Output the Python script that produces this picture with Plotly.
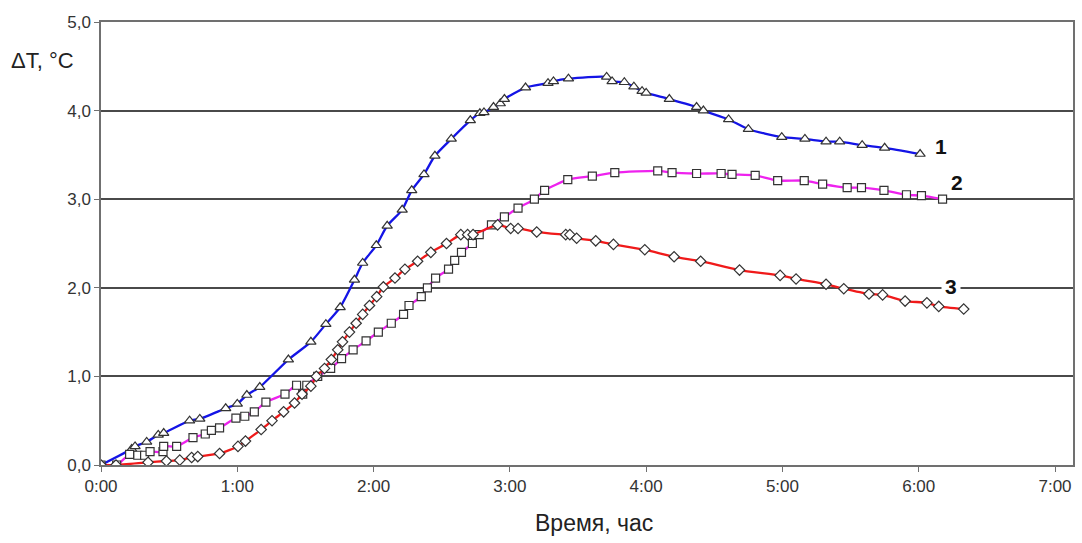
import plotly.graph_objects as go

# time in hours, dT in °C
t1 = [0.0, 0.225, 0.25, 0.335, 0.42, 0.46, 0.65, 0.725, 0.915, 1.0, 1.07, 1.165, 1.375, 1.54, 1.65,
      1.755, 1.86, 1.92, 2.02, 2.10, 2.21, 2.28, 2.37, 2.45, 2.57, 2.71, 2.78, 2.81, 2.88, 2.93, 2.96,
      3.115, 3.28, 3.32, 3.43, 3.71, 3.75, 3.84, 3.91, 3.97, 4.0, 4.17, 4.37, 4.42, 4.605, 4.75, 4.995,
      5.165, 5.32, 5.42, 5.585, 5.75, 6.01]
d1 = [0.0, 0.18, 0.21, 0.26, 0.34, 0.36, 0.50, 0.52, 0.64, 0.69, 0.79, 0.88, 1.19, 1.39, 1.59,
      1.78, 2.09, 2.28, 2.48, 2.70, 2.88, 3.10, 3.28, 3.49, 3.68, 3.89, 3.97, 3.98, 4.04, 4.08, 4.13,
      4.26, 4.31, 4.33, 4.36, 4.38, 4.33, 4.32, 4.27, 4.22, 4.20, 4.13, 4.04, 4.00, 3.90, 3.79, 3.70,
      3.68, 3.65, 3.65, 3.61, 3.58, 3.51]

t2 = [0.0, 0.115, 0.21, 0.27, 0.32, 0.36, 0.455, 0.46, 0.555, 0.675, 0.765, 0.81, 0.87, 0.99, 1.055,
      1.125, 1.21, 1.35, 1.435, 1.48, 1.51, 1.59, 1.685, 1.765, 1.85, 1.945, 2.035, 2.13, 2.22, 2.26,
      2.35, 2.395, 2.455, 2.55, 2.595, 2.645, 2.725, 2.775, 2.865, 2.96, 3.06, 3.18, 3.255, 3.425,
      3.605, 3.77, 4.085, 4.19, 4.37, 4.55, 4.63, 4.80, 4.965, 5.16, 5.295, 5.475, 5.58, 5.745, 5.91,
      6.02, 6.175]
d2 = [0.0, 0.0, 0.12, 0.11, 0.11, 0.15, 0.15, 0.21, 0.21, 0.31, 0.35, 0.39, 0.42, 0.53, 0.55,
      0.60, 0.71, 0.80, 0.90, 0.80, 0.90, 1.00, 1.09, 1.20, 1.30, 1.40, 1.50, 1.60, 1.70, 1.80,
      1.90, 2.00, 2.11, 2.21, 2.31, 2.40, 2.50, 2.60, 2.71, 2.80, 2.90, 3.00, 3.10, 3.22,
      3.26, 3.30, 3.32, 3.30, 3.29, 3.29, 3.28, 3.27, 3.21, 3.21, 3.17, 3.13, 3.13, 3.10, 3.05,
      3.04, 3.00]

t3 = [0.0, 0.11, 0.345, 0.48, 0.578, 0.665, 0.71, 0.87, 1.005, 1.06, 1.175, 1.255, 1.34, 1.42, 1.475,
      1.54, 1.58, 1.64, 1.69, 1.737, 1.772, 1.823, 1.872, 1.92, 1.97, 2.023, 2.072, 2.157, 2.23, 2.323,
      2.42, 2.535, 2.64, 2.69, 2.73, 2.91, 3.006, 3.06, 3.197, 3.41, 3.44, 3.49, 3.63, 3.76, 3.99,
      4.205, 4.40, 4.685, 4.983, 5.10, 5.32, 5.45, 5.635, 5.735, 5.90, 6.06, 6.147, 6.33]
d3 = [0.0, 0.0, 0.03, 0.045, 0.055, 0.085, 0.095, 0.13, 0.21, 0.27, 0.40, 0.50, 0.60, 0.70, 0.80,
      0.89, 1.00, 1.09, 1.19, 1.30, 1.39, 1.50, 1.60, 1.70, 1.80, 1.90, 2.01, 2.11, 2.21, 2.30,
      2.40, 2.50, 2.60, 2.60, 2.60, 2.71, 2.67, 2.67, 2.63, 2.60, 2.60, 2.56, 2.53, 2.49, 2.43,
      2.35, 2.30, 2.20, 2.14, 2.10, 2.04, 1.99, 1.93, 1.92, 1.85, 1.83, 1.79, 1.76]

x_ticks = [0, 1, 2, 3, 4, 5, 6, 7]
x_tick_labels = ["0:00", "1:00", "2:00", "3:00", "4:00", "5:00", "6:00", "7:00"]
y_ticks = [0, 1, 2, 3, 4, 5]
y_tick_labels = ["0,0", "1,0", "2,0", "3,0", "4,0", "5,0"]

series = [
    ("1", t1, d1, "#1414E6", "triangle-up", 9),
    ("2", t2, d2, "#EE22EE", "square", 8),
    ("3", t3, d3, "#F01A1A", "diamond", 8),
]

fig = go.Figure()
for name, t, d, col, sym, ms in series:
    fig.add_trace(go.Scatter(
        x=t, y=d, mode="lines+markers", name=name,
        line=dict(color=col, width=2.3, shape="spline", smoothing=0.6),
        marker=dict(symbol=sym, size=ms, color="white",
                    line=dict(color="#333333", width=1.2)),
    ))

font = "Liberation Sans, Arial, sans-serif"
fig.update_layout(
    width=1082, height=543,
    margin=dict(l=101, r=7, t=22, b=78),
    paper_bgcolor="white", plot_bgcolor="white",
    showlegend=False,
    font=dict(family=font, size=16, color="#333333"),
    xaxis=dict(range=[0, 7.132], tickvals=x_ticks, ticktext=x_tick_labels,
               showgrid=False, zeroline=False, showline=True, linecolor="#707070",
               linewidth=1.5, mirror=True, ticks="outside", ticklen=5, tickcolor="#707070",
               tickfont=dict(size=17, color="#333333")),
    yaxis=dict(range=[0, 5], tickvals=y_ticks, ticktext=y_tick_labels,
               showgrid=True, gridcolor="#4a4a4a", gridwidth=1.5, zeroline=False,
               showline=True, linecolor="#707070", linewidth=1.5, mirror=True,
               ticks="outside", ticklen=5, tickcolor="#707070",
               tickfont=dict(size=17, color="#333333")),
)

fig.add_annotation(text="ΔT, °C", xref="paper", yref="paper", x=-0.06, y=0.912,
                   showarrow=False, font=dict(size=22, color="#222222"),
                   xanchor="center", yanchor="middle")
fig.add_annotation(text="Время, час", xref="paper", yref="paper", x=0.507, y=-0.13,
                   showarrow=False, font=dict(size=23, color="#222222"),
                   xanchor="center", yanchor="middle")

for txt, xx, yy in [("1", 6.16, 3.60), ("2", 6.28, 3.19), ("3", 6.24, 2.01)]:
    fig.add_annotation(text="<b>" + txt + "</b>", x=xx, y=yy, showarrow=False,
                       font=dict(size=21, color="#111111"),
                       bgcolor="white" if txt == "3" else "rgba(0,0,0,0)",
                       borderpad=3, xanchor="center", yanchor="middle")

fig.write_html("out.html")
